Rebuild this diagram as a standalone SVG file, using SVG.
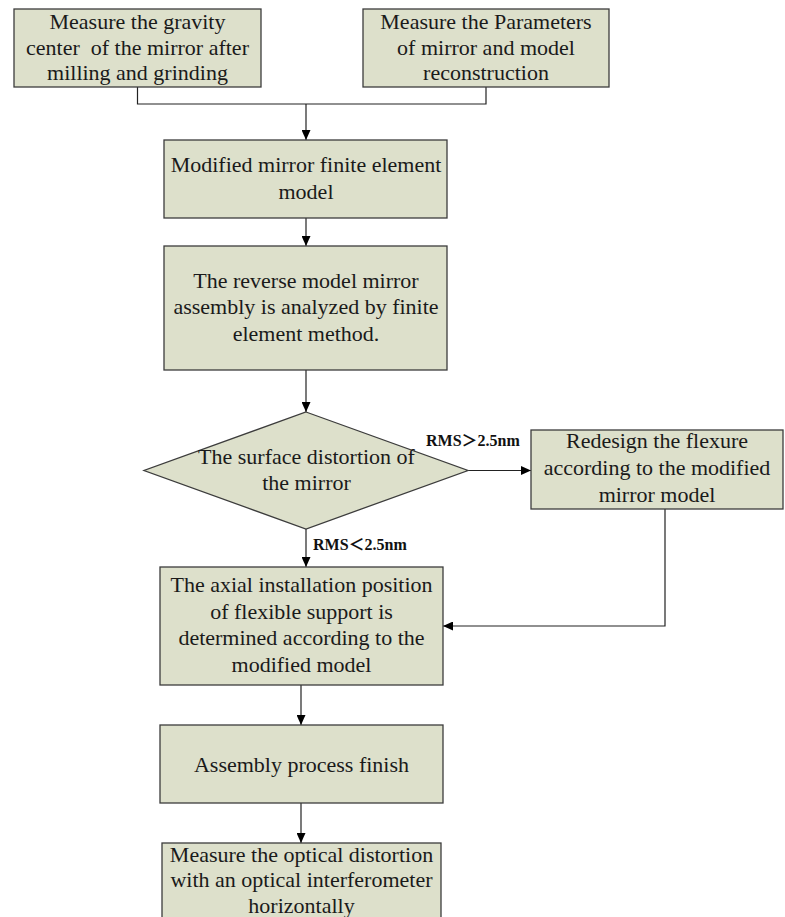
<svg xmlns="http://www.w3.org/2000/svg" width="785" height="917" viewBox="0 0 785 917">
<style>
.box{fill:#dde0cb;stroke:#3c3c3c;stroke-width:1.3}
.t{font-family:"Liberation Serif",serif;font-size:22px;fill:#1a1a1a;text-anchor:middle}
.lbl{font-family:"Liberation Serif","Noto Sans CJK SC",serif;font-size:16px;font-weight:bold;fill:#111}
.ln{fill:none;stroke:#222;stroke-width:1.2}
</style>
<defs>
<marker id="ah" markerWidth="10" markerHeight="9" refX="10" refY="4.5" orient="auto" markerUnits="userSpaceOnUse">
<path d="M0,0 L10,4.5 L0,9 z" fill="#000"/>
</marker>
</defs>
<rect width="785" height="917" fill="#fff"/>
<g id="connectors">
<path class="ln" d="M137.5,87 V104 H486 V87"/>
<path class="ln" d="M306,104 V140" marker-end="url(#ah)"/>
<path class="ln" d="M306,218 V246" marker-end="url(#ah)"/>
<path class="ln" d="M306,370 V412" marker-end="url(#ah)"/>
<path class="ln" d="M468,470.5 H531" marker-end="url(#ah)"/>
<path class="ln" d="M306,529 V567" marker-end="url(#ah)"/>
<path class="ln" d="M665,509 V626 H443" marker-end="url(#ah)"/>
<path class="ln" d="M301,685 V725" marker-end="url(#ah)"/>
<path class="ln" d="M301,803 V843" marker-end="url(#ah)"/>
<text class="lbl" x="426" y="446">RMS＞2.5nm</text>
<text class="lbl" x="313" y="550">RMS＜2.5nm</text>
</g>
<g id="n1">
<rect class="box" x="14" y="9" width="247" height="78"/>
<text class="t" x="137.5" y="28.5">Measure the gravity</text>
<text class="t" x="137.5" y="54.5" xml:space="preserve">center  of the mirror after</text>
<text class="t" x="137.5" y="80">milling and grinding</text>
</g>
<g id="n2">
<rect class="box" x="363" y="9" width="246" height="78"/>
<text class="t" x="486" y="28.5">Measure the Parameters</text>
<text class="t" x="486" y="54.5">of mirror and model</text>
<text class="t" x="486" y="80">reconstruction</text>
</g>
<g id="n3">
<rect class="box" x="164" y="140" width="283" height="78"/>
<text class="t" x="306" y="172">Modified mirror finite element</text>
<text class="t" x="306" y="199">model</text>
</g>
<g id="n4">
<rect class="box" x="164" y="246" width="283" height="124"/>
<text class="t" x="306" y="288">The reverse model mirror</text>
<text class="t" x="306" y="314">assembly is analyzed by finite</text>
<text class="t" x="306" y="341">element method.</text>
</g>
<g id="n5">
<polygon class="box" points="306,412 468,470.5 306,529 144,470.5"/>
<text class="t" x="306.5" y="463.5">The surface distortion of</text>
<text class="t" x="306.5" y="489.5">the mirror</text>
</g>
<g id="n6">
<rect class="box" x="531" y="430" width="252" height="79"/>
<text class="t" x="657" y="448">Redesign the flexure</text>
<text class="t" x="657" y="475">according to the modified</text>
<text class="t" x="657" y="501.5">mirror model</text>
</g>
<g id="n7">
<rect class="box" x="160" y="567" width="283" height="118"/>
<text class="t" x="301.5" y="592">The axial installation position</text>
<text class="t" x="301.5" y="618.5">of flexible support is</text>
<text class="t" x="301.5" y="645">determined according to the</text>
<text class="t" x="301.5" y="671.5">modified model</text>
</g>
<g id="n8">
<rect class="box" x="160" y="725" width="283" height="78"/>
<text class="t" x="301.5" y="771.5">Assembly process finish</text>
</g>
<g id="n9">
<rect class="box" x="162" y="843" width="279" height="100"/>
<text class="t" x="301.5" y="862">Measure the optical distortion</text>
<text class="t" x="301.5" y="887">with an optical interferometer</text>
<text class="t" x="301.5" y="912.5">horizontally</text>
</g>
</svg>
